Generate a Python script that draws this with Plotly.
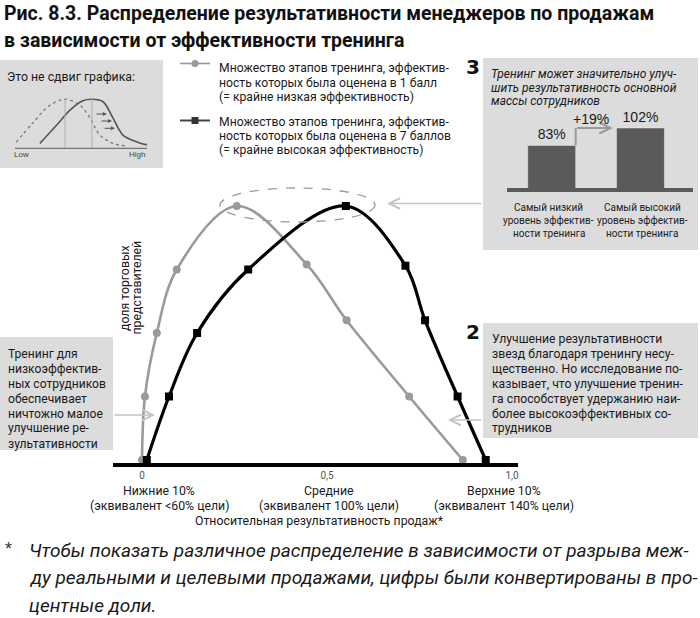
import plotly.graph_objects as go

W, H = 700, 618

# ---------------- data ----------------
perf_low = [0.0, 0.008, 0.040, 0.094, 0.256, 0.445, 0.553, 0.722, 0.867]
share_low = [0.0, 0.25, 0.50, 0.75, 1.00, 0.77, 0.55, 0.25, 0.0]
perf_high = [0.013, 0.073, 0.149, 0.287, 0.551, 0.712, 0.765, 0.853, 0.929]
share_high = [0.0, 0.25, 0.50, 0.75, 1.00, 0.765, 0.55, 0.25, 0.0]

tick_vals = [0.0, 0.5, 1.0]
tick_text = ["0", "0,5", "1,0"]
group_names = ["Нижние 10%", "Средние", "Верхние 10%"]
group_equiv = ["(эквивалент <60% цели)", "(эквивалент 100% цели)", "(эквивалент 140% цели)"]
x_title = "Относительная результативность продаж*"
y_title = ["доля торговых", "представителей"]

bar_values = [83, 102]
bar_labels = [
    ["Самый низкий", "уровень эффектив-", "ности тренинга"],
    ["Самый высокий", "уровень эффектив-", "ности тренинга"],
]

inset_x_low = [0.008, 0.136, 0.265, 0.379, 0.492, 0.568, 0.644, 0.742, 0.833]
inset_y_low = [0.12, 0.52, 0.88, 1.00, 0.88, 0.62, 0.27, 0.10, 0.05]
inset_x_high = [0.189, 0.318, 0.417, 0.515, 0.583, 0.667, 0.742, 0.818, 0.924, 1.0]
inset_y_high = [0.10, 0.48, 0.78, 0.97, 1.00, 0.95, 0.62, 0.27, 0.13, 0.07]

title_lines = ["Рис. 8.3. Распределение результативности менеджеров по продажам",
               "в зависимости от эффективности тренинга"]
legend_low = ["Множество этапов тренинга, эффектив-",
              "ность которых была оценена в 1 балл",
              "(= крайне низкая эффективность)"]
legend_high = ["Множество этапов тренинга, эффектив-",
               "ность которых была оценена в 7 баллов",
               "(= крайне высокая эффективность)"]
box3_lines = ["Тренинг может значительно улуч-",
              "шить результативность основной",
              "массы сотрудников"]
box2_lines = ["Улучшение результативности",
              "звезд благодаря тренингу несу-",
              "щественно. Но исследование по-",
              "казывает, что улучшение тренин-",
              "га способствует удержанию наи-",
              "более высокоэффективных со-",
              "трудников"]
left_lines = ["Тренинг для", "низкоэффектив-", "ных сотрудников", "обеспечивает",
              "ничтожно малое", "улучшение ре-", "зультативности"]
inset_title = "Это не сдвиг графика:"
foot_lines = ["Чтобы показать различное распределение в зависимости от разрыва меж-",
              "ду реальными и целевыми продажами, цифры были конвертированы в про-",
              "центные доли."]

# ---------------- helpers ----------------
NARROW = "Roboto, Liberation Sans, sans-serif"
BOX = "#dcdcdc"
ARROW = "#c4c4c4"


def px(x):
    return x / W


def py(y):
    return 1 - y / H


annotations = []
shapes = []


def text(x, y, s, size=12.2, color="#1a1a1a", xanchor="left", weight="normal",
         style="normal", family=NARROW, angle=0):
    annotations.append(dict(xref="paper", yref="paper", x=px(x), y=py(y), text=s,
                            showarrow=False, xanchor=xanchor, yanchor="middle",
                            textangle=angle,
                            font=dict(family=family, size=size, color=color,
                                      weight=weight, style=style)))


def lines(x, y0, step, items, **kw):
    for i, s in enumerate(items):
        text(x, y0 + i * step, s, **kw)


def rect(x0, y0, x1, y1, color=BOX):
    shapes.append(dict(type="rect", xref="paper", yref="paper", x0=px(x0), x1=px(x1),
                       y0=py(y1), y1=py(y0), fillcolor=color, line_width=0, layer="below"))


def arrow(tail, tip, color=ARROW, width=1.6, head=5, size=1.3):
    annotations.append(dict(xref="paper", yref="paper", x=px(tip[0]), y=py(tip[1]),
                            axref="pixel", ayref="pixel",
                            ax=tail[0] - tip[0], ay=tail[1] - tip[1],
                            text="", showarrow=True, arrowhead=head, arrowsize=size,
                            arrowwidth=width, arrowcolor=color, standoff=0))


# main axes geometry (pixel positions of data 0 and 1)
X0P, X1P = 142, 512
Y0P, Y1P = 460, 206
SX = X1P - X0P
SY = Y0P - Y1P

fig = go.Figure()

fig.add_trace(go.Scatter(x=perf_low, y=share_low, mode="lines+markers",
                         line=dict(color="#9a9a9a", width=2.6, shape="spline", smoothing=1.0),
                         marker=dict(symbol="circle", size=8, color="#9a9a9a"),
                         xaxis="x", yaxis="y"))
fig.add_trace(go.Scatter(x=perf_high, y=share_high, mode="lines+markers",
                         line=dict(color="#000000", width=3.2, shape="spline", smoothing=1.0),
                         marker=dict(symbol="square", size=8, color="#000000"),
                         xaxis="x", yaxis="y"))

# bar inset
fig.add_trace(go.Bar(x=[0, 1], y=bar_values, width=0.54, marker_color="#5a5a5a",
                     text=[f"{v}%" for v in bar_values], textposition="outside",
                     textfont=dict(family="Liberation Sans, Arial, sans-serif", size=14, color="#1a1a1a"),
                     cliponaxis=False, xaxis="x2", yaxis="y2"))

# distribution shift inset
fig.add_trace(go.Scatter(x=inset_x_low, y=inset_y_low, mode="lines",
                         line=dict(color="#7a7a7a", width=1.3, dash="dot", shape="spline"),
                         xaxis="x3", yaxis="y3"))
fig.add_trace(go.Scatter(x=inset_x_high, y=inset_y_high, mode="lines",
                         line=dict(color="#555555", width=1.6, shape="spline"),
                         xaxis="x3", yaxis="y3"))

# ---------------- boxes ----------------
rect(0, 60, 163, 168)
rect(483, 58, 698, 250)
rect(0, 337, 113, 450)
rect(483, 323, 698, 438)

# ---------------- title ----------------
lines(2, 14, 26, title_lines, size=19.5, weight="bold", color="#111")

# ---------------- inset 1 ----------------
text(5, 77, inset_title, size=12.3)
ipk_low = inset_x_low[inset_y_low.index(max(inset_y_low))]
ipk_high = inset_x_high[inset_y_high.index(max(inset_y_high))]
for xv in (ipk_low, ipk_high):
    shapes.append(dict(type="line", xref="x3", yref="y3", x0=xv, x1=xv, y0=0, y1=1.03,
                       line=dict(color="#b0b0b0", width=1)))
shapes.append(dict(type="line", xref="x3", yref="y3", x0=0, x1=1, y0=0, y1=0,
                   line=dict(color="#777", width=1.2)))
for (xa, ya) in [(0.606, 0.70), (0.644, 0.557), (0.667, 0.408)]:
    annotations.append(dict(xref="x3", yref="y3", x=xa + 0.09, y=ya, axref="x3", ayref="y3",
                            ax=xa, ay=ya, text="", showarrow=True, arrowhead=2,
                            arrowsize=0.8, arrowwidth=1, arrowcolor="#555"))
text(21, 155, "Low", size=8, color="#444", xanchor="center", family="Liberation Sans, sans-serif")
text(137, 155, "High", size=8, color="#444", xanchor="center", family="Liberation Sans, sans-serif")

# ---------------- legend ----------------
shapes.append(dict(type="line", xref="paper", yref="paper", x0=px(180), x1=px(210),
                   y0=py(63.5), y1=py(63.5), line=dict(color="#9a9a9a", width=1.6)))
shapes.append(dict(type="circle", xref="paper", yref="paper", x0=px(191.5), x1=px(198.5),
                   y0=py(67), y1=py(60), fillcolor="#9a9a9a", line_width=0))
shapes.append(dict(type="line", xref="paper", yref="paper", x0=px(180), x1=px(210),
                   y0=py(120.5), y1=py(120.5), line=dict(color="#444", width=2)))
shapes.append(dict(type="rect", xref="paper", yref="paper", x0=px(191.5), x1=px(198.5),
                   y0=py(124), y1=py(117), fillcolor="#333", line_width=0))
lines(217, 68, 14.5, legend_low, size=12.2)
lines(217, 121.5, 14.5, legend_high, size=12.2)

# ---------------- box 3 ----------------
text(472.5, 67, "3", size=20, weight="bold", family="DejaVu Sans, sans-serif", xanchor="center", color="#111")
lines(489, 74, 13.5, box3_lines, size=12, style="italic")
for i, lab in enumerate(bar_labels):
    for j, s in enumerate(lab):
        annotations.append(dict(xref="x2", yref="paper", x=i, y=py(207 + j * 13), text=s,
                                showarrow=False, xanchor="center", yanchor="middle",
                                xshift=(-3 if i == 0 else 2),
                                font=dict(family=NARROW, size=10, color="#222")))
# +19% arrow
half = 0.27
shapes.append(dict(type="line", xref="x2", yref="y2", x0=half, x1=half,
                   y0=bar_values[0], y1=bar_values[1], line=dict(color="#9a9a9a", width=2)))
annotations.append(dict(xref="x2", yref="y2", x=1 - half - 0.04, y=bar_values[1],
                        axref="x2", ayref="y2", ax=half, ay=bar_values[1], text="",
                        showarrow=True, arrowhead=5, arrowsize=1.1, arrowwidth=2,
                        arrowcolor="#9a9a9a", standoff=0))
annotations.append(dict(xref="x2", yref="y2", x=0.44, y=bar_values[1], yshift=9,
                        text=f"+{bar_values[1] - bar_values[0]}%", showarrow=False,
                        font=dict(family="Liberation Sans, Arial, sans-serif", size=14, color="#1a1a1a")))

# ---------------- ellipse + arrows ----------------
shapes.append(dict(type="circle", xref="paper", yref="paper", x0=px(220), x1=px(375),
                   y0=py(222), y1=py(188), line=dict(color="#9a9a9a", width=1.3, dash="dash")))
arrow((483, 203.5), (387, 203.5))
arrow((113, 415), (155, 415))
arrow((483, 420), (448, 420))

# ---------------- left box / box 2 ----------------
lines(6, 353.5, 15, left_lines, size=12.1)
text(473.5, 331.5, "2", size=20, weight="bold", family="DejaVu Sans, sans-serif", xanchor="center", color="#111")
lines(490, 338.5, 15, box2_lines, size=12.2)

# ---------------- axis labels ----------------
text(125, 288, y_title[0], size=12.3, angle=-90, xanchor="center")
text(136.5, 288, y_title[1], size=12.3, angle=-90, xanchor="center")
shifts = [17, 2, -8]
for i in range(3):
    annotations.append(dict(xref="x", yref="paper", x=tick_vals[i], y=py(490.5), text=group_names[i],
                            xshift=shifts[i], showarrow=False, xanchor="center", yanchor="middle",
                            font=dict(family=NARROW, size=12.3, color="#1a1a1a")))
    annotations.append(dict(xref="x", yref="paper", x=tick_vals[i], y=py(505.5), text=group_equiv[i],
                            xshift=shifts[i], showarrow=False, xanchor="center", yanchor="middle",
                            font=dict(family=NARROW, size=12.3, color="#1a1a1a")))
text(319, 520.5, x_title, size=12.3, xanchor="center")

# ---------------- footnote ----------------
text(3, 549, "*", size=18, color="#333", family="Liberation Sans, sans-serif")
lines(27, 550, 27.5, foot_lines, size=19, style="italic", color="#1a1a1a")

fig.update_layout(
    width=W, height=H, margin=dict(l=0, r=0, t=0, b=0),
    paper_bgcolor="white", plot_bgcolor="rgba(0,0,0,0)", showlegend=False,
    xaxis=dict(domain=[px(113), px(518)], range=[(113 - X0P) / SX, (518 - X0P) / SX],
               anchor="free", position=py(464.5), showline=True, linewidth=4,
               linecolor="black", showgrid=False, zeroline=False, ticks="",
               tickvals=tick_vals, ticktext=tick_text,
               tickfont=dict(family=NARROW, size=10, color="#555"), fixedrange=True),
    yaxis=dict(domain=[0, 1], range=[(Y0P - H) / SY, Y0P / SY], visible=False, fixedrange=True),
    xaxis2=dict(domain=[px(506.7), px(693.3)], range=[-0.507, 1.595], anchor="y2",
                showline=True, linewidth=4, linecolor="#5a5a5a", showgrid=False,
                zeroline=False, showticklabels=False, ticks="", fixedrange=True),
    yaxis2=dict(domain=[py(188), py(110)], range=[36.5, 36.5 + 78 / 0.916], anchor="x2",
                visible=False, fixedrange=True),
    xaxis3=dict(domain=[px(13), px(150)], range=[-0.015, 1.023], anchor="y3", visible=False,
                fixedrange=True),
    yaxis3=dict(domain=[py(150), py(95)], range=[-0.035, 1.088], anchor="x3", visible=False,
                fixedrange=True),
    annotations=annotations, shapes=shapes,
)

fig.write_html("out.html")
